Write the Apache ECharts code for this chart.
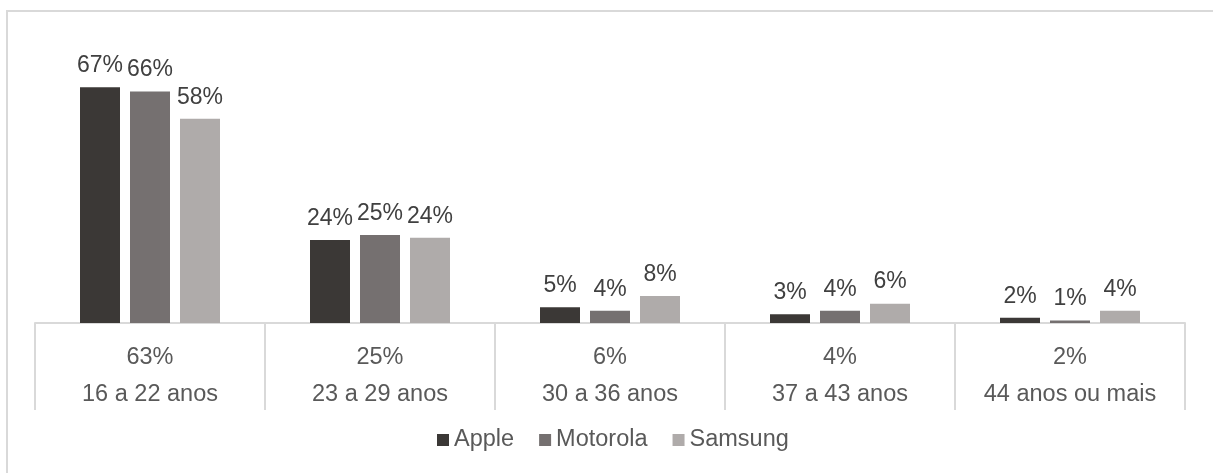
<!DOCTYPE html>
<html>
<head>
<meta charset="utf-8">
<script src="https://cdn.jsdelivr.net/npm/echarts@6/dist/echarts.min.js"></script>
<style>
html,body{margin:0;padding:0;background:#fff;}
#chart{width:1213px;height:473px;}
</style>
</head>
<body>
<div id="chart"></div>
<script>
const categories = ['16 a 22 anos', '23 a 29 anos', '30 a 36 anos', '37 a 43 anos', '44 anos ou mais'];
const totals = [63, 25, 6, 4, 2];
const apple = [67, 23.6, 4.5, 2.5, 1.5];
const motorola = [65.8, 25, 3.5, 3.5, 0.7];
const samsung = [58, 24.2, 7.7, 5.5, 3.5];
const seriesNames = ['Apple', 'Motorola', 'Samsung'];
const colors = ['#3b3836', '#757070', '#afabaa'];

const FONT = '"Liberation Sans", Arial, sans-serif';
const chart = echarts.init(document.getElementById('chart'), null, {renderer: 'canvas'});

function mkSeries(name, data, color) {
  return {
    name: name,
    type: 'bar',
    data: data,
    barWidth: 40,
    barGap: '25%',
    itemStyle: {color: color},
    label: {
      show: true,
      position: 'top',
      distance: 10,
      color: '#404040',
      fontFamily: FONT,
      fontSize: 23,
      formatter: p => Math.round(p.value) + '%'
    }
  };
}

chart.setOption({
  animation: false,
  backgroundColor: '#ffffff',
  graphic: [{
    type: 'rect',
    shape: {x: 7, y: 11, width: 1230, height: 480},
    style: {fill: 'none', stroke: '#d9d9d9', lineWidth: 2},
    silent: true
  }],
  grid: {left: 35, right: 28, top: 76.6, bottom: 150, containLabel: false},
  legend: {
    data: seriesNames,
    top: 423,
    left: 432,
    icon: 'rect',
    itemWidth: 12,
    itemHeight: 12,
    itemGap: 25,
    textStyle: {color: '#595959', fontFamily: FONT, fontSize: 23.5}
  },
  xAxis: {
    type: 'category',
    data: categories,
    axisLine: {show: true, lineStyle: {color: '#d9d9d9', width: 2}},
    axisTick: {show: true, length: 87, lineStyle: {color: '#d9d9d9', width: 2}},
    axisLabel: {
      margin: 16,
      interval: 0,
      formatter: (v, i) => '{t|' + totals[i] + '%}\n{c|' + v + '}',
      rich: {
        t: {color: '#595959', fontFamily: FONT, fontSize: 23.5, lineHeight: 37},
        c: {color: '#595959', fontFamily: FONT, fontSize: 23.5, lineHeight: 37}
      }
    }
  },
  yAxis: {
    type: 'value',
    min: 0,
    max: 70,
    show: false,
    splitLine: {show: false}
  },
  series: [
    mkSeries(seriesNames[0], apple, colors[0]),
    mkSeries(seriesNames[1], motorola, colors[1]),
    mkSeries(seriesNames[2], samsung, colors[2])
  ]
});
</script>
</body>
</html>
